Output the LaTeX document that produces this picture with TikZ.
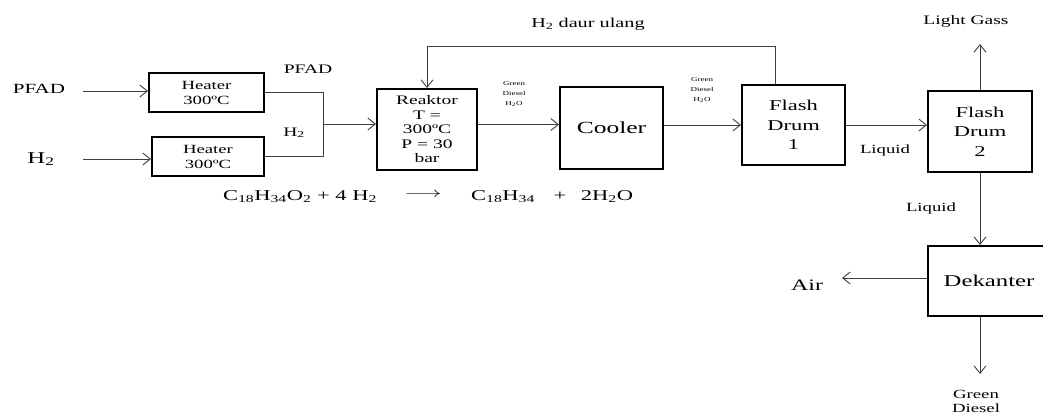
\documentclass[tikz,border=0pt]{standalone}
\usepackage{fontspec}
\setmainfont[FakeStretch=1.5]{Liberation Serif}
\usepackage{tikz}
\usetikzlibrary{arrows.meta,positioning,calc}
\newcommand{\huruf}[2]{\fontsize{#1}{#2}\selectfont}
\tikzset{
  kotak/.style={draw=black,line width=2pt,inner sep=0pt,align=center},
  garis/.style={draw=black!75,line width=0.9pt},
  panah/.style={garis,-{Straight Barb[length=7.5pt,width=12pt]}},
  teks/.style={inner sep=0pt,align=center,text=black}
}

\begin{document}
\begin{tikzpicture}[x=1pt,y=-1pt]
\useasboundingbox (0,0) rectangle (1043,413);
% unit proses
\node[kotak,minimum width=115pt,minimum height=39pt,font=\huruf{12.5}{15}] (heaterA) at (206.5,92.5) {Heater\\300ºC};
\node[kotak,minimum width=112pt,minimum height=39pt,font=\huruf{12.5}{15}] (heaterB) at (208,156.5) {Heater\\300ºC};
\node[kotak,minimum width=100pt,minimum height=81pt,font=\huruf{13}{14.5}] (reaktor) at (427,129.5) {Reaktor\\T =\\300ºC\\P = 30\\bar};
\node[kotak,minimum width=103pt,minimum height=82pt,font=\huruf{17}{20}] (cooler) at (611.5,128) {Cooler};
\node[kotak,minimum width=103pt,minimum height=80pt,font=\huruf{15}{19.5}] (flashA) at (793.5,125) {Flash\\Drum\\1};
\node[kotak,minimum width=104pt,minimum height=81pt,font=\huruf{15}{19.5}] (flashB) at (980,131.5) {Flash\\Drum\\2};
\node[kotak,minimum width=122pt,minimum height=70pt,font=\huruf{16.5}{19}] (dekanter) at (989,281) {Dekanter};

% label aliran
\node[teks,anchor=base,font=\huruf{14}{16}] (lblPFAD) at (39,93) {PFAD};
\node[teks,anchor=base,font=\huruf{16.5}{18}] (lblH) at (41,163) {H\textsubscript{2}};
\node[teks,anchor=base,font=\huruf{13}{15}] (lblPFADb) at (308,73) {PFAD};
\node[teks,anchor=base,font=\huruf{13}{15}] (lblHb) at (294,136) {H\textsubscript{2}};
\node[teks,anchor=base,font=\huruf{13.5}{15}] (lblDaur) at (588,27) {H\textsubscript{2} daur ulang};
\node[teks,font=\huruf{6}{10}] (isiA) at (514,94) {Green\\Diesel\\H\textsubscript{2}O};
\node[teks,font=\huruf{6}{10}] (isiB) at (702,90) {Green\\Diesel\\H\textsubscript{2}O};
\node[teks,anchor=base,font=\huruf{12.5}{15}] (lblLiqA) at (885,153) {Liquid};
\node[teks,anchor=base,font=\huruf{13}{15}] (lblGas) at (966,24) {Light Gass};
\node[teks,anchor=base,font=\huruf{12.5}{15}] (lblLiqB) at (931,211) {Liquid};
\node[teks,anchor=base,font=\huruf{16}{18}] (lblAir) at (807,290) {Air};
\node[teks,font=\huruf{12.5}{14}] (lblGD) at (976,401) {Green\\Diesel};

% reaksi
\node[teks,anchor=base,font=\huruf{15}{17}] (reaksiA) at (300,200) {C\textsubscript{18}H\textsubscript{34}O\textsubscript{2} + 4 H\textsubscript{2}};
\node[teks,font=\huruf{15}{17}] (reaksiPanah) at (423,195) {\scalebox{1.6}[1]{$\longrightarrow$}};
\node[teks,anchor=base,font=\huruf{15}{17}] (reaksiB) at (503,200) {C\textsubscript{18}H\textsubscript{34}};
\node[teks,anchor=base,font=\huruf{15}{17}] (reaksiC) at (560,200) {+};
\node[teks,anchor=base,font=\huruf{15}{17}] (reaksiD) at (607,200) {2H\textsubscript{2}O};

% aliran masuk
\coordinate (masukA) at (83,91);
\coordinate (masukB) at (83,159);
\draw[panah] (masukA) -- (masukA -| heaterA.west);
\draw[panah] (masukB) -- (masukB -| heaterB.west);
\coordinate (gabung) at (323,124);
\draw[garis] (heaterA.east) -| (gabung);
\draw[garis] (heaterB.east) -| (gabung);
\draw[panah] (gabung) -- (gabung -| reaktor.west);

% aliran utama
\draw[panah] ([yshift=5pt]reaktor.east) -- ([yshift=5pt]reaktor.east -| cooler.west);
\draw[panah] (cooler.east |- flashA) -- (flashA.west);
\draw[panah] (flashA.east) -- (flashA.east -| flashB.west);
\draw[panah] ([xshift=-18pt]flashA.north) -- ++(0,-38) -| (reaktor.north);
\draw[panah] (flashB.north) -- ++(0,-46);
\draw[panah] (flashB.south) -- (flashB.south |- dekanter.north);
\draw[panah] ([yshift=3pt]dekanter.west) -- ++(-85,0);
\draw[panah] (flashB.south |- dekanter.south) -- ++(0,57);
\end{tikzpicture}
\end{document}
